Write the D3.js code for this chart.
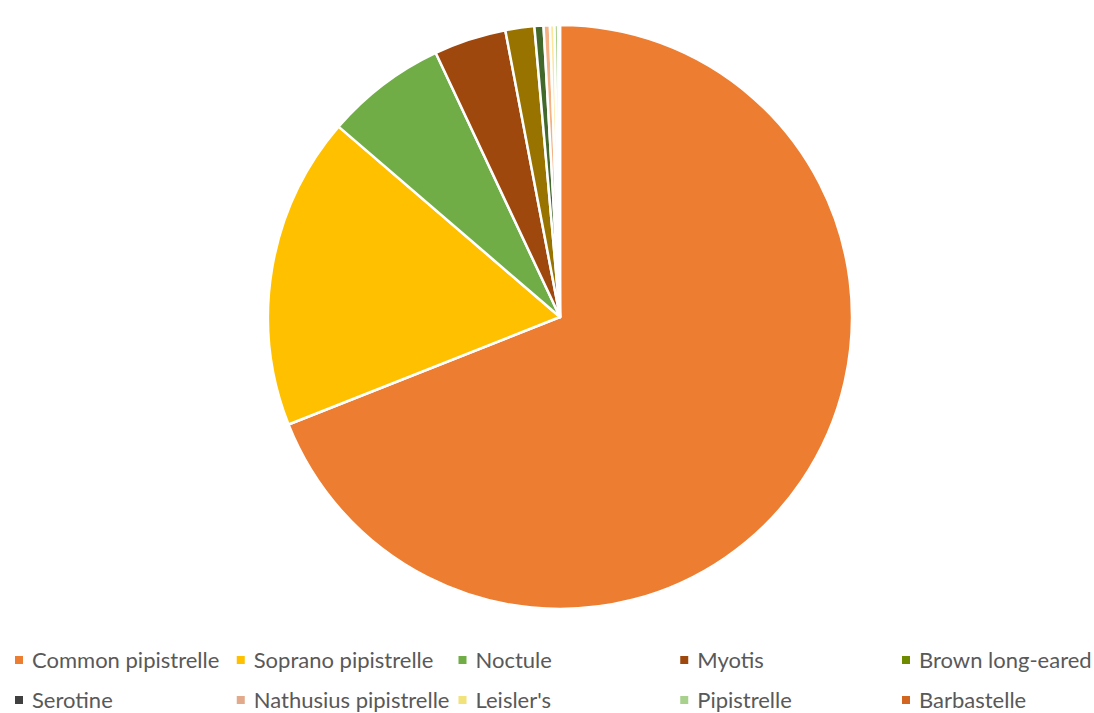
<!DOCTYPE html>
<html>
<head>
<meta charset="utf-8">
<script src="https://cdn.jsdelivr.net/npm/d3@7"></script>
<style>
  html, body { margin: 0; padding: 0; background: #ffffff; }
  svg { display: block; }
</style>
</head>
<body>
<svg id="chart" width="1094" height="713"></svg>
<script>
// Bat passes by species (share of all recorded passes, %)
const species = [
  "Common pipistrelle", "Soprano pipistrelle", "Noctule", "Myotis", "Brown long-eared",
  "Serotine", "Nathusius pipistrelle", "Leisler's", "Pipistrelle", "Barbastelle"
];
const shares = [69.0, 17.3, 6.7, 4.0, 1.6, 0.5, 0.35, 0.25, 0.2, 0.1];
const colours = [
  "#ED7D31", "#FFC000", "#70AD47", "#9E480E", "#997300",
  "#43682B", "#F4B183", "#FFE699", "#A9D18E", "#C55A11"
];
// legend swatch colours
const legendColours = [
  "#ED7D31", "#FFC000", "#70AD47", "#9E480E", "#6E8B00",
  "#404040", "#E2A98A", "#F2E27A", "#A9D18E", "#D2651F"
];

const data = species.map((name, i) => ({ name, value: shares[i], colour: colours[i], swatch: legendColours[i] }));

const svg = d3.select("#chart");
const cx = 560, cy = 317, radius = 292;

const pie = d3.pie().value(d => d.value).sort(null);
const arc = d3.arc().innerRadius(0).outerRadius(radius);

svg.append("g")
  .attr("transform", `translate(${cx},${cy})`)
  .selectAll("path")
  .data(pie(data))
  .join("path")
  .attr("d", arc)
  .attr("fill", d => d.data.colour)
  .attr("stroke", "#ffffff")
  .attr("stroke-width", 2.5)
  .attr("stroke-linejoin", "round");

// Legend: two rows of five entries
const colX = d3.scalePoint().domain(d3.range(5)).range([19, 906]);
const rowY = d3.scalePoint().domain([0, 1]).range([660, 700]);

const legend = svg.append("g")
  .selectAll("g")
  .data(data)
  .join("g")
  .attr("transform", (d, i) => `translate(${colX(i % 5)},${rowY(Math.floor(i / 5))})`);

legend.append("rect")
  .attr("x", -4).attr("y", -4)
  .attr("width", 8).attr("height", 8)
  .attr("fill", d => d.swatch);

legend.append("text")
  .attr("x", 13)
  .attr("dy", "0.35em")
  .attr("font-family", "Lato, 'Open Sans', sans-serif")
  .attr("font-size", 22)
  .attr("fill", "#595959")
  .text(d => d.name);
</script>
</body>
</html>
